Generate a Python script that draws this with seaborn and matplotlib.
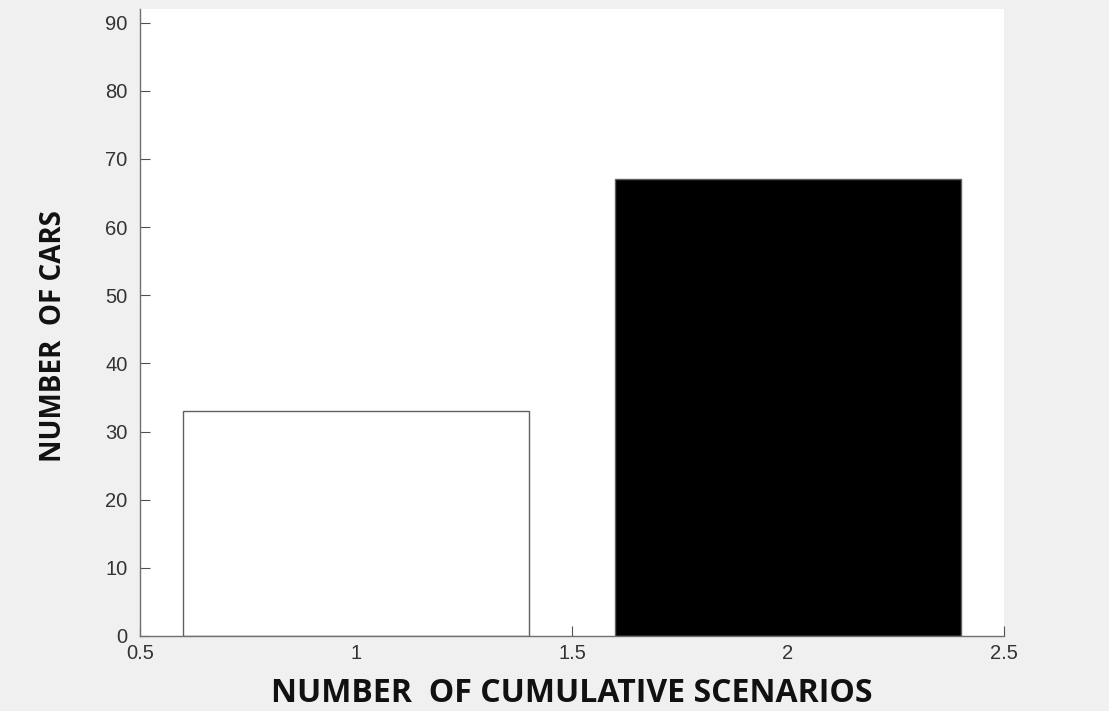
import pandas as pd
import seaborn as sns
import matplotlib.pyplot as plt

# data
scenarios = [1, 2]
cars = [33, 67]
bar_colors = ['white', 'black']

df = pd.DataFrame({'Scenarios': scenarios, 'Cars': cars})

sns.set_style("white")
plt.rcParams['font.family'] = ['Liberation Sans', 'DejaVu Sans']

fig = plt.figure(figsize=(11.09, 7.11), dpi=100, facecolor='#f0f0f0')
ax = fig.add_axes([0.1262, 0.1055, 0.7791, 0.8818])

sns.barplot(data=df, x='Scenarios', y='Cars', hue='Scenarios',
            palette=bar_colors, native_scale=True, width=0.8,
            legend=False, ax=ax, edgecolor='#606060', linewidth=1.0)

ax.set_xlim(0.5, 2.5)
ax.set_ylim(0, 92)
ax.set_xticks([0.5, 1, 1.5, 2, 2.5])
ax.set_xticklabels(['0.5', '1', '1.5', '2', '2.5'])
ax.set_yticks(range(0, 91, 10))

ax.spines['top'].set_visible(False)
ax.spines['right'].set_visible(False)
for s in ['left', 'bottom']:
    ax.spines[s].set_color('#707070')
    ax.spines[s].set_linewidth(1.0)

# matlab-like inward ticks
ax.tick_params(axis='both', direction='in', length=7, width=0.8,
               bottom=True, left=True,
               color='#505050', labelcolor='#333333', labelsize=14.5)
ax.tick_params(axis='x', pad=6)
ax.tick_params(axis='y', pad=9)

ax.set_xlabel('NUMBER  OF CUMULATIVE SCENARIOS', fontsize=23, fontweight='bold',
              family='Open Sans', color='#111111', labelpad=10)
ax.set_ylabel('NUMBER  OF CARS', fontsize=20, fontweight='bold',
              family='Open Sans', color='#111111')
ax.yaxis.set_label_coords(-0.083, 0.478)

fig.savefig('out.png', dpi=100, facecolor=fig.get_facecolor())
